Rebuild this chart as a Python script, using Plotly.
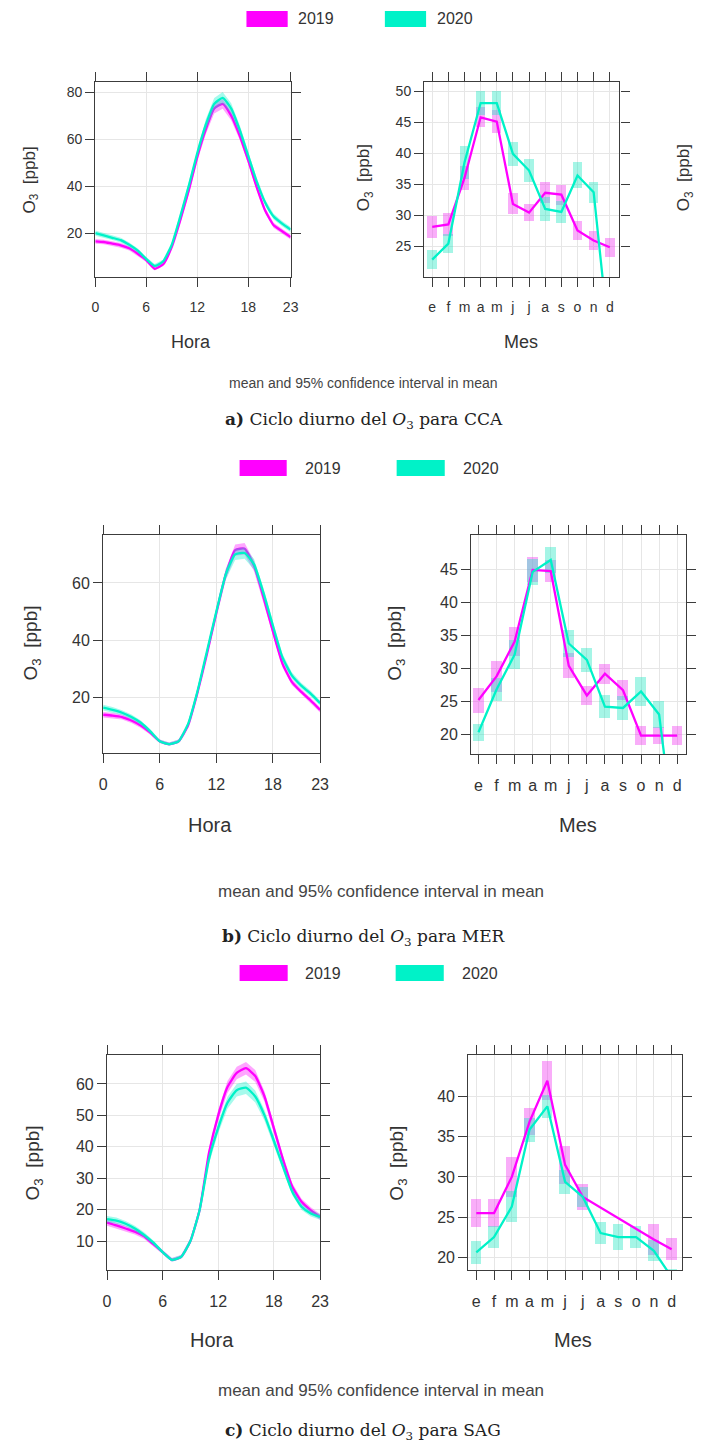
import plotly.graph_objects as go

W, H = 707, 1445

hours = list(range(24))
hour_ticks = [0, 6, 12, 18, 23]
month_labels = ['e', 'f', 'm', 'a', 'm', 'j', 'j', 'a', 's', 'o', 'n', 'd']
month_idx = list(range(12))
years = ['2019', '2020']

# ---------------- Panel a (CCA) ----------------
a_hora_2019 = [16.5, 16.2, 15.5, 14.8, 13.5, 11.2, 8.5, 4.8, 6.7, 14.0, 25.4, 38.0,
               52.3, 64.0, 73.0, 75.0, 70.0, 61.5, 51.0, 39.6, 29.6, 23.3, 20.8, 18.3]
a_hora_2020 = [20.0, 19.0, 18.0, 17.0, 15.0, 12.5, 9.0, 6.0, 8.0, 15.0, 27.0, 40.0,
               54.0, 66.0, 75.0, 77.5, 73.0, 64.0, 53.0, 42.0, 33.0, 27.0, 24.0, 21.5]
a_hora_ci_2019 = [1.0, 1.0, 1.0, 1.0, 0.9, 0.9, 0.8, 0.7, 0.7, 0.9, 1.2, 1.5,
                  1.8, 2.0, 2.1, 2.1, 2.0, 1.8, 1.6, 1.4, 1.2, 1.1, 1.0, 1.0]
a_hora_ci_2020 = [1.1, 1.1, 1.0, 1.0, 1.0, 0.9, 0.8, 0.8, 0.8, 1.0, 1.3, 1.6,
                  2.0, 2.3, 2.5, 2.5, 2.3, 2.0, 1.8, 1.5, 1.3, 1.2, 1.1, 1.1]
a_mes_2019 = [28.1, 28.5, 36.0, 45.8, 45.1, 31.8, 30.4, 33.6, 33.3, 27.5, 25.9, 24.8]
a_mes_ci_2019 = [1.8, 1.9, 2.0, 1.6, 1.9, 1.7, 1.4, 1.7, 1.6, 1.6, 1.6, 1.5]
a_mes_2020 = [22.8, 25.4, 38.5, 48.1, 48.1, 39.9, 37.2, 31.0, 30.5, 36.4, 33.7, 8.8]
a_mes_ci_2020 = [1.5, 1.6, 2.7, 1.9, 1.9, 1.9, 1.9, 1.9, 1.8, 2.1, 1.7, 1.5]

# ---------------- Panel b (MER) ----------------
b_hora_2019 = [13.8, 13.5, 13.0, 11.8, 10.0, 7.5, 4.5, 3.5, 4.5, 10.0, 21.5, 35.0,
               49.5, 63.0, 71.5, 72.0, 66.0, 55.0, 43.0, 31.8, 25.3, 21.8, 18.8, 15.5]
b_hora_2020 = [16.3, 15.5, 14.5, 13.0, 11.0, 8.0, 4.5, 3.5, 4.5, 10.5, 22.0, 36.0,
               50.0, 63.0, 70.0, 70.5, 66.5, 56.5, 45.0, 34.0, 27.6, 24.0, 21.2, 17.9]
b_hora_ci_2019 = [1.0, 1.0, 0.9, 0.9, 0.8, 0.7, 0.6, 0.6, 0.6, 0.8, 1.1, 1.4,
                  1.7, 1.9, 2.0, 2.0, 1.9, 1.7, 1.5, 1.3, 1.1, 1.0, 1.0, 0.9]
b_hora_ci_2020 = [1.0, 1.0, 0.9, 0.9, 0.8, 0.7, 0.6, 0.6, 0.6, 0.8, 1.1, 1.4,
                  1.7, 1.9, 2.0, 2.0, 1.9, 1.7, 1.5, 1.3, 1.1, 1.0, 1.0, 0.9]
b_mes_2019 = [25.2, 28.8, 34.1, 45.0, 44.8, 30.4, 25.9, 29.2, 26.7, 19.8, 19.8, 19.8]
b_mes_ci_2019 = [1.9, 2.4, 2.2, 1.9, 1.7, 1.9, 1.4, 1.5, 1.5, 1.5, 1.3, 1.5]
b_mes_2020 = [20.3, 26.8, 32.1, 44.7, 46.5, 33.8, 31.3, 24.2, 24.0, 26.5, 23.0, 1.0]
b_mes_ci_2020 = [1.3, 1.8, 2.2, 2.0, 2.0, 2.0, 1.8, 1.7, 1.8, 2.2, 2.0, 1.5]

# ---------------- Panel c (SAG) ----------------
c_hora_2019 = [15.9, 15.0, 14.0, 13.0, 11.5, 9.0, 6.5, 4.0, 5.0, 10.0, 20.0, 38.0,
               50.0, 59.0, 63.5, 65.0, 62.5, 56.0, 46.0, 35.9, 27.3, 22.5, 19.8, 17.7]
c_hora_2020 = [17.0, 16.5, 15.5, 14.0, 12.0, 9.5, 6.5, 4.0, 5.0, 10.0, 20.0, 36.0,
               46.0, 54.0, 58.0, 58.8, 56.0, 50.0, 42.0, 33.7, 25.7, 20.9, 18.8, 17.7]
c_hora_ci_2019 = [1.0, 1.0, 0.9, 0.9, 0.8, 0.7, 0.6, 0.6, 0.6, 0.8, 1.1, 1.4,
                  1.7, 1.9, 2.0, 2.0, 1.9, 1.7, 1.5, 1.3, 1.1, 1.0, 1.0, 0.9]
c_hora_ci_2020 = [1.0, 1.0, 0.9, 0.9, 0.8, 0.7, 0.6, 0.6, 0.6, 0.8, 1.1, 1.4,
                  1.7, 1.9, 2.0, 2.0, 1.9, 1.7, 1.5, 1.3, 1.1, 1.0, 1.0, 0.9]
c_mes_2019 = [25.5, 25.5, 30.0, 36.9, 42.0, 31.5, 27.5, None, None, None, 22.2, 21.0]
c_mes_ci_2019 = [1.8, 1.8, 2.5, 1.7, 2.4, 2.4, 1.6, None, None, None, 1.9, 1.4]
c_mes_2020 = [20.6, 22.5, 26.3, 35.9, 38.8, 29.4, 27.5, 23.0, 22.5, 22.5, 20.8, 17.5]
c_mes_ci_2020 = [1.4, 1.4, 1.9, 1.5, 1.4, 1.5, 1.3, 1.4, 1.6, 1.4, 1.3, 1.0]

captions = ["<b>a)</b> Ciclo diurno del <i>O</i><sub>3</sub> para CCA",
            "<b>b)</b> Ciclo diurno del <i>O</i><sub>3</sub> para MER",
            "<b>c)</b> Ciclo diurno del <i>O</i><sub>3</sub> para SAG"]
subtitle = "mean and 95% confidence interval in mean"

# ---------------- styling ----------------
MAG = "#FF00FF"
CYN = "#00F2C8"
MAG_BAND = "rgba(255,0,255,0.35)"
CYN_BAND = "rgba(0,242,200,0.35)"
MAG_BOX = "rgba(240,60,240,0.42)"
CYN_BOX = "rgba(40,230,195,0.42)"
AX = "#3c3c3c"
TXT = "#333333"
SANS = "Liberation Sans, Arial, sans-serif"
NARROW = "Liberation Sans Narrow, Arial Narrow, Liberation Sans, sans-serif"
SERIF = "DejaVu Serif, Liberation Serif, serif"


def px_x(p):
    return p / W


def px_y(p):
    return 1 - p / H


panels = [
    dict(hora=(a_hora_2019, a_hora_2020, a_hora_ci_2019, a_hora_ci_2020),
         mes=(a_mes_2019, a_mes_2020, a_mes_ci_2019, a_mes_ci_2020),
         hbox=(93, 292, 82, 277), mbox=(428, 627, 82, 277),
         hy=[1.3, 84.3], hyt=[20, 40, 60, 80],
         mx=[-0.5, 11.6], my=[20, 51.5], myt=[25, 30, 35, 40, 45, 50],
         tfs=14),
    dict(hora=(b_hora_2019, b_hora_2020, b_hora_ci_2019, b_hora_ci_2020),
         mes=(b_mes_2019, b_mes_2020, b_mes_ci_2019, b_mes_ci_2020),
         hbox=(101, 322, 535, 753), mbox=(476, 695, 535, 754),
         hy=[0.4, 76.8], hyt=[20, 40, 60],
         mx=[-0.4, 11.5], my=[17, 50.3], myt=[20, 25, 30, 35, 40, 45],
         tfs=16),
    dict(hora=(c_hora_2019, c_hora_2020, c_hora_ci_2019, c_hora_ci_2020),
         mes=(c_mes_2019, c_mes_2020, c_mes_ci_2019, c_mes_ci_2020),
         hbox=(105, 322, 1055, 1270), mbox=(473, 691, 1055, 1270),
         hy=[0.8, 69.2], hyt=[10, 20, 30, 40, 50, 60],
         mx=[-0.45, 11.6], my=[18.4, 45.2], myt=[20, 25, 30, 35, 40],
         tfs=16),
]

fig = go.Figure()
layout = dict(width=W, height=H, margin=dict(l=0, r=0, t=0, b=0),
              paper_bgcolor="white", plot_bgcolor="white", showlegend=False,
              barmode="overlay", bargap=0)
annotations = []
shapes = []


def axis_common(box, horizontal, fs):
    l, r, t, b = box
    d = dict(showline=True, linecolor=AX, linewidth=1.3, mirror="ticks",
             ticks="outside", ticklen=9, tickwidth=1.2, tickcolor=AX,
             showgrid=True, gridcolor="#e6e6e6", gridwidth=1, zeroline=False,
             tickfont=dict(family=SANS, size=fs, color=TXT), fixedrange=True)
    if horizontal:
        d["domain"] = [px_x(l), px_x(r)]
        d["ticklabelstandoff"] = 8
    else:
        d["domain"] = [px_y(b), px_y(t)]
    return d


def ytitle(x, y, fs):
    annotations.append(dict(x=px_x(x), y=px_y(y), xref="paper", yref="paper",
                            text="O<sub>3</sub>&nbsp; [ppb]", showarrow=False,
                            textangle=-90, font=dict(family=SANS, size=fs, color=TXT),
                            xanchor="center", yanchor="middle"))


def xtitle(x, y, txt, fs):
    annotations.append(dict(x=px_x(x), y=px_y(y), xref="paper", yref="paper",
                            text=txt, showarrow=False,
                            font=dict(family=SANS, size=fs, color=TXT),
                            xanchor="center", yanchor="middle"))


ax_n = 0
for p in panels:
    # ---- Hora subplot ----
    ax_n += 1
    xa, ya = ("x", "y") if ax_n == 1 else (f"x{ax_n}", f"y{ax_n}")
    v19, v20, c19, c20 = p["hora"]
    for vals, ci, band, col in ((v19, c19, MAG_BAND, MAG), (v20, c20, CYN_BAND, CYN)):
        hi = [v + c for v, c in zip(vals, ci)]
        lo = [v - c for v, c in zip(vals, ci)]
        fig.add_trace(go.Scatter(x=hours + hours[::-1], y=hi + lo[::-1], fill="toself",
                                 fillcolor=band, line=dict(width=0), mode="lines",
                                 hoverinfo="skip", xaxis=xa, yaxis=ya))
        fig.add_trace(go.Scatter(x=hours, y=vals, mode="lines",
                                 line=dict(color=col, width=2.3, shape="spline", smoothing=0.5),
                                 xaxis=xa, yaxis=ya))
    xd = axis_common(p["hbox"], True, p["tfs"])
    xd.update(range=[0, 23], tickvals=hour_ticks, anchor=ya)
    yd = axis_common(p["hbox"], False, p["tfs"])
    yd.update(range=p["hy"], tickvals=p["hyt"], anchor=xa)
    layout["xaxis" if ax_n == 1 else f"xaxis{ax_n}"] = xd
    layout["yaxis" if ax_n == 1 else f"yaxis{ax_n}"] = yd

    # ---- Mes subplot ----
    ax_n += 1
    xa, ya = f"x{ax_n}", f"y{ax_n}"
    m19, m20, mc19, mc20 = p["mes"]
    for vals, ci, boxc in ((m19, mc19, MAG_BOX), (m20, mc20, CYN_BOX)):
        xs = [i for i, v in zip(month_idx, vals) if v is not None]
        base = [v - c for v, c in zip(vals, ci) if v is not None]
        height = [2 * c for v, c in zip(vals, ci) if v is not None]
        fig.add_trace(go.Bar(x=xs, y=height, base=base, width=0.6,
                             marker=dict(color=boxc, line=dict(width=0)),
                             hoverinfo="skip", xaxis=xa, yaxis=ya))
    for vals, col in ((m19, MAG), (m20, CYN)):
        fig.add_trace(go.Scatter(x=month_idx, y=vals, mode="lines", connectgaps=True,
                                 line=dict(color=col, width=2.3),
                                 xaxis=xa, yaxis=ya))
    xd = axis_common(p["mbox"], True, p["tfs"])
    xd.update(range=p["mx"], tickvals=month_idx, ticktext=month_labels, anchor=ya)
    yd = axis_common(p["mbox"], False, p["tfs"])
    yd.update(range=p["my"], tickvals=p["myt"], anchor=xa)
    layout[f"xaxis{ax_n}"] = xd
    layout[f"yaxis{ax_n}"] = yd

# axis titles
xtitle(190, 342, "Hora", 18); xtitle(527, 342, "Mes", 18)
ytitle(27, 180, 17); ytitle(368, 178, 17); ytitle(694, 178, 17)
xtitle(210, 825, "Hora", 20); xtitle(585, 825, "Mes", 20)
ytitle(29, 643, 19); ytitle(399, 643, 19)
xtitle(212, 1340, "Hora", 20); xtitle(580, 1340, "Mes", 20)
ytitle(31, 1163, 19); ytitle(401, 1163, 19)

# legends (one per panel)
legend_rows = [(19, 247, 289, 318, 388, 430, 459),
               (468, 240, 288, 325, 400, 449, 486),
               (973, 240, 289, 325, 399, 448, 485)]
for yc, m0, m1, mt, c0, c1, ct in legend_rows:
    shapes.append(dict(type="rect", xref="paper", yref="paper", x0=px_x(m0), x1=px_x(m1),
                       y0=px_y(yc + 8), y1=px_y(yc - 8), fillcolor=MAG, line=dict(width=0)))
    shapes.append(dict(type="rect", xref="paper", yref="paper", x0=px_x(c0), x1=px_x(c1),
                       y0=px_y(yc + 8), y1=px_y(yc - 8), fillcolor=CYN, line=dict(width=0)))
    for xt, label in ((mt, years[0]), (ct, years[1])):
        annotations.append(dict(x=px_x(xt), y=px_y(yc), xref="paper", yref="paper", text=label,
                                showarrow=False, font=dict(family=SANS, size=16, color=TXT),
                                xanchor="center", yanchor="middle"))

# subtitles and captions
for ys, xs, fs in ((383, 366, 14), (891, 384, 17), (1390, 384, 17)):
    annotations.append(dict(x=px_x(xs), y=px_y(ys), xref="paper", yref="paper", text=subtitle,
                            showarrow=False, font=dict(family=NARROW, size=fs, color="#444"),
                            xanchor="center", yanchor="middle"))
for cap, (yc, xc) in zip(captions, ((420, 367), (937, 367), (1431, 366))):
    annotations.append(dict(x=px_x(xc), y=px_y(yc), xref="paper", yref="paper", text=cap,
                            showarrow=False, font=dict(family=SERIF, size=17, color="#222"),
                            xanchor="center", yanchor="middle"))

layout["annotations"] = annotations
layout["shapes"] = shapes
fig.update_layout(**layout)
fig.write_html("out.html", config={"displayModeBar": False},
               post_script="document.body.style.margin='0px';document.body.style.overflow='hidden';")
